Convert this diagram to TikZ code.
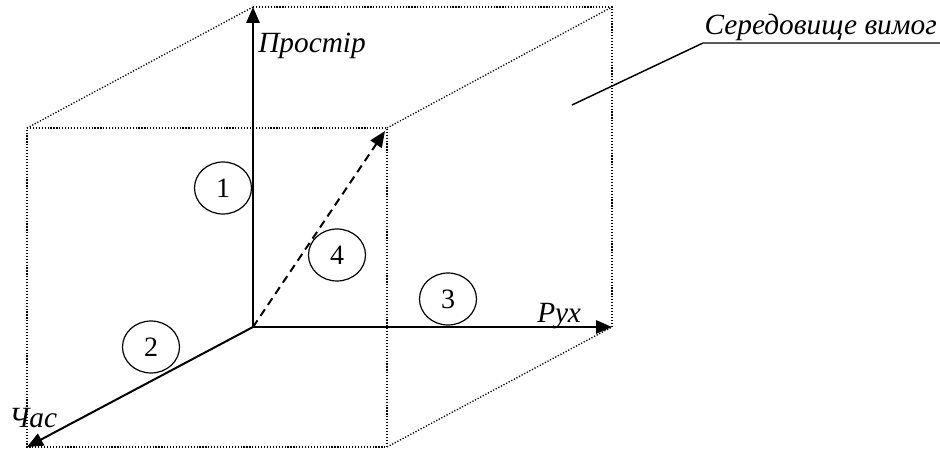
\documentclass[tikz,border=0pt]{standalone}
\usepackage{fontspec}
\setmainfont{Liberation Serif}
\usetikzlibrary{arrows.meta,shapes.geometric}
\begin{document}
\begin{tikzpicture}[x=0.75pt,y=-0.75pt,
 axis/.style={line width=1.5pt,-{Triangle[length=12pt,width=10pt]}},
 dashaxis/.style={line width=1.5pt,dash pattern=on 6pt off 4pt,-{Triangle[length=12pt,width=10pt]}},
 cubeedge/.style={line width=1pt,dash pattern=on 0.9pt off 1.3pt},
 num/.style={ellipse,draw,line width=0.9pt,minimum width=42.75pt,minimum height=39pt,inner sep=0pt,font=\fontsize{21}{21}\selectfont},
 lbl/.style={font=\fontsize{22}{22}\selectfont\itshape,inner sep=0pt},
 leader/.style={line width=1.1pt}]
\useasboundingbox (0,0) rectangle (940,453);
% back face
\coordinate (O) at (253,327);
\coordinate (BTL) at (253,7);
\coordinate (BTR) at (612,7);
\coordinate (BBR) at (612,327);
% front face
\coordinate (FTL) at (27,128);
\coordinate (FTR) at (387,128);
\coordinate (FBR) at (387,447);
\coordinate (FBL) at (27,447);
% dotted edges
\draw[cubeedge] (BTL) -- (BTR) -- (BBR);
\draw[cubeedge] (FTL) -- (FTR) -- (FBR) -- (FBL) -- cycle;
\draw[cubeedge] (FTL) -- (BTL);
\draw[cubeedge] (FTR) -- (BTR);
\draw[cubeedge] (FBR) -- (BBR);
% axes
\draw[axis] (O) -- (BTL);
\draw[axis] (O) -- (BBR);
\draw[axis] (O) -- (FBL);
\draw[dashaxis] (O) -- (385,131);
% numbered circles
\node[num] (n1) at (223,188) {1};
\node[num] (n2) at (151,347) {2};
\node[num] (n3) at (448,299) {3};
\node[num] (n4) at (337,255) {4};
% labels
\node[lbl,anchor=base west] (lp) at (258,53) {Простір};
\node[lbl,anchor=base west] (lr) at (537,322) {Рух};
\node[lbl,anchor=base west] (lc) at (9,427) {Час};
\node[lbl,anchor=base east] (ls) at (937,35) {Середовище вимог};
\coordinate (lead) at (572,105);
\coordinate (u1) at (703,43);
\coordinate (u2) at (940,43);
\draw[leader] (lead) -- (u1) -- (u2);
\end{tikzpicture}
\end{document}
